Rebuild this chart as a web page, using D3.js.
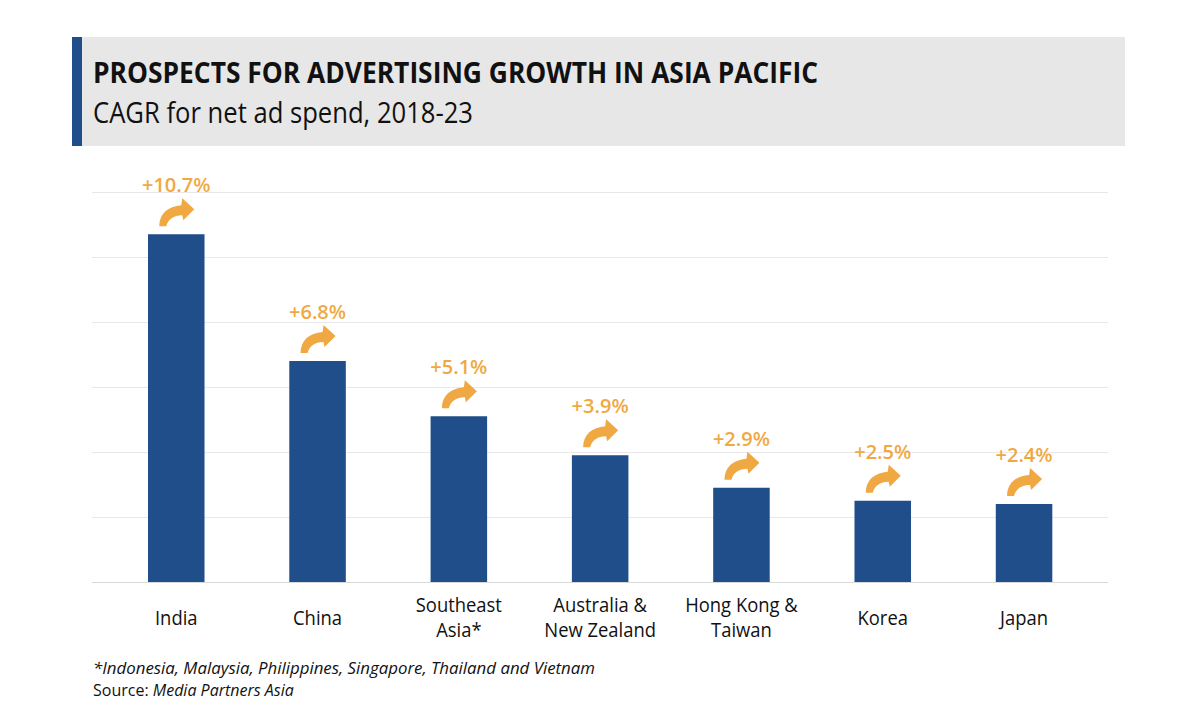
<!DOCTYPE html>
<html>
<head>
<meta charset="utf-8">
<script src="https://cdnjs.cloudflare.com/ajax/libs/d3/7.8.5/d3.min.js"></script>
<style>
    body { margin: 0; background: #ffffff; }
    svg { display: block; font-family: "Open Sans", "Noto Sans", sans-serif; }
</style>
</head>
<body>
<svg id="chart" width="1200" height="728"></svg>
<script>
'use strict';

// ---- data ----
var categories = ["India", "China", "Southeast Asia*", "Australia & New Zealand", "Hong Kong & Taiwan", "Korea", "Japan"];
var categoryLines = [["India"], ["China"], ["Southeast", "Asia*"], ["Australia &", "New Zealand"], ["Hong Kong &", "Taiwan"], ["Korea"], ["Japan"]];
var cagr = [10.7, 6.8, 5.1, 3.9, 2.9, 2.5, 2.4];
var yTicks = [0, 2, 4, 6, 8, 10, 12];

var titleText = "PROSPECTS FOR ADVERTISING GROWTH IN ASIA PACIFIC";
var subtitleText = "CAGR for net ad spend, 2018-23";
var footnote = "*Indonesia, Malaysia, Philippines, Singapore, Thailand and Vietnam";
var sourceLabel = "Source:";
var sourceText = " Media Partners Asia";

var BLUE = "#1f4e8b";
var ORANGE = "#f0a942";

var svg = d3.select("#chart");

/*=====  Header box  ======*/
svg.append("rect")
    .attr("x", 72).attr("y", 37).attr("width", 1053).attr("height", 109)
    .attr("fill", "#e7e7e7");
svg.append("rect")
    .attr("x", 72).attr("y", 37).attr("width", 10).attr("height", 109)
    .attr("fill", BLUE);

svg.append("text")
    .attr("x", 93).attr("y", 83)
    .attr("font-size", "29px").attr("font-weight", 700)
    .attr("fill", "#111")
    .attr("textLength", 725).attr("lengthAdjust", "spacingAndGlyphs")
    .text(titleText);

svg.append("text")
    .attr("x", 93).attr("y", 123)
    .attr("font-size", "30px")
    .attr("fill", "#111")
    .attr("textLength", 380).attr("lengthAdjust", "spacingAndGlyphs")
    .text(subtitleText);

/*=====  Scales  ======*/
var x = d3.scaleBand()
    .domain(categories)
    .range([105.6, 1094.7])
    .paddingInner(0.6)
    .paddingOuter(0.3);

var y = d3.scaleLinear()
    .domain([0, 12])
    .range([582, 192]);

/*=====  Grid  ======*/
var grid = svg.append("g").attr("class", "grid");
grid.selectAll("line")
    .data(yTicks)
    .enter().append("line")
        .attr("x1", 92).attr("x2", 1108)
        .attr("y1", function(d) { return y(d) + 0.5; })
        .attr("y2", function(d) { return y(d) + 0.5; })
        .attr("stroke", function(d) { return d === 0 ? "#d8d8d8" : "#e8e8e8"; })
        .attr("stroke-width", 1);

/*=====  Bars  ======*/
svg.append("g").selectAll("rect")
    .data(cagr)
    .enter().append("rect")
        .attr("x", function(d, i) { return x(categories[i]); })
        .attr("y", function(d) { return y(d); })
        .attr("width", x.bandwidth())
        .attr("height", function(d) { return y(0) - y(d); })
        .attr("fill", BLUE);

/*=====  Arrows + value labels  ======*/
// curved "up" arrow, drawn relative to bar centre / bar top
var arrowPath = "M -17,-8 C -17,-21 -8,-28 5,-29 L 6,-36 L 18,-25 L 7,-14 L 6,-19 C -3,-19 -8,-15 -10,-8 Z";

var marks = svg.append("g").selectAll("g")
    .data(cagr)
    .enter().append("g")
        .attr("transform", function(d, i) {
            return "translate(" + (x(categories[i]) + x.bandwidth() / 2) + "," + y(d) + ")";
        });

marks.append("path")
    .attr("d", arrowPath)
    .attr("fill", ORANGE);

marks.append("text")
    .attr("y", -42)
    .attr("text-anchor", "middle")
    .attr("font-size", "20px")
    .attr("font-weight", 600)
    .attr("fill", ORANGE)
    .text(function(d) { return "+" + d.toFixed(1) + "%"; });

/*=====  Category labels  ======*/
// the original face is a touch narrower, so squeeze each line a little
var labels = svg.append("g").selectAll("text")
    .data(categories)
    .enter().append("text")
        .attr("font-size", "20px")
        .attr("fill", "#111");

labels.each(function(d, i) {
    var lines = categoryLines[i];
    var t = d3.select(this);
    var cx = x(d) + x.bandwidth() / 2;
    var firstY = lines.length === 1 ? 625 : 612;
    lines.forEach(function(line, k) {
        var ts = t.append("tspan")
            .attr("x", cx)
            .attr("y", firstY + k * 25)
            .text(line);
        var w = ts.node().getComputedTextLength() * 0.92;
        ts.attr("x", cx - w / 2)
          .attr("textLength", w)
          .attr("lengthAdjust", "spacingAndGlyphs");
    });
});

/*=====  Footnotes  ======*/
svg.append("text")
    .attr("x", 93).attr("y", 674)
    .attr("font-size", "16px").attr("font-style", "italic")
    .attr("fill", "#111")
    .attr("textLength", 502).attr("lengthAdjust", "spacingAndGlyphs")
    .text(footnote);

var src = svg.append("text")
    .attr("x", 93).attr("y", 696)
    .attr("font-size", "16px")
    .attr("fill", "#111");
src.append("tspan").text(sourceLabel);
src.append("tspan").attr("font-style", "italic").text(sourceText);
</script>
</body>
</html>
